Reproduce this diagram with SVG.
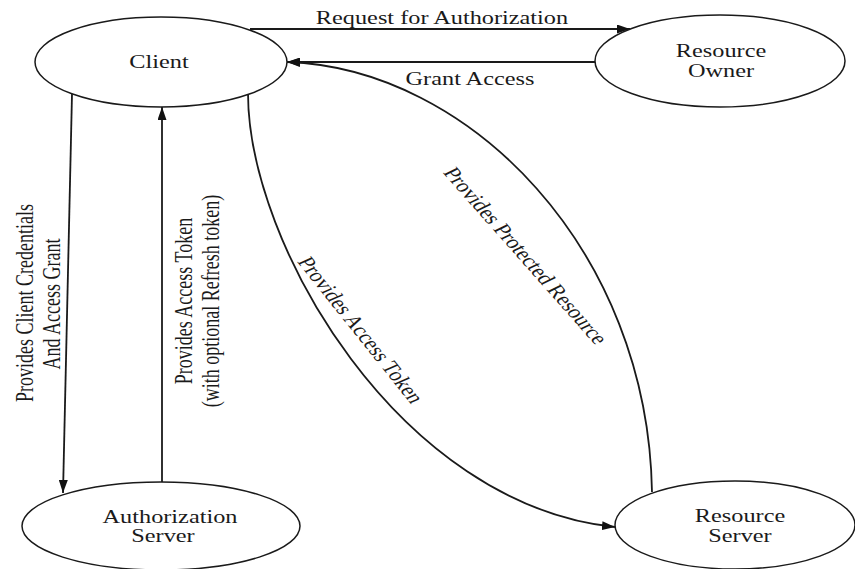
<svg xmlns="http://www.w3.org/2000/svg" width="855" height="569" viewBox="0 0 855 569">
<style>
  .node { fill: #ffffff; stroke: #1a1a1a; stroke-width: 1.5; }
  .lbl { font-family: "Liberation Serif", "Times New Roman", serif; font-size: 18px; fill: #1a1a1a; text-anchor: middle; }
  .edge { fill: none; stroke: #1a1a1a; stroke-width: 1.8; }
</style>
<defs>
  <marker id="arrow" markerUnits="userSpaceOnUse" markerWidth="14" markerHeight="9" refX="13" refY="4.5" orient="auto">
    <path d="M0,0 L13,4.5 L0,9 z" fill="#111111"/>
  </marker>
</defs>
<rect width="855" height="569" fill="#ffffff"/>

<g id="connectors">
  <path id="e-request" class="edge" d="M250,29 L630,29" marker-end="url(#arrow)"/>
  <path id="e-grant" class="edge" d="M595,62 L287,62" marker-end="url(#arrow)"/>
  <path id="e-credentials" class="edge" d="M72,94 L63,493" marker-end="url(#arrow)"/>
  <path id="e-token" class="edge" d="M162,482 L162,107" marker-end="url(#arrow)"/>
  <path id="e-access" class="edge" d="M248,93 C248,245 400,505 615,527" marker-end="url(#arrow)"/>
  <path id="e-protected" class="edge" d="M652,492 C648,250 470,68 287,62" marker-end="url(#arrow)"/>
  <g class="lbl">
    <text transform="translate(442,24) scale(1.35,1)">Request for Authorization</text>
    <text transform="translate(470,85) scale(1.35,1)">Grant Access</text>
    <text transform="translate(33,303) scale(1.35,1) rotate(-90)">Provides Client Credentials</text>
    <text transform="translate(60,304) scale(1.35,1) rotate(-90)">And Access Grant</text>
    <text transform="translate(192,301) scale(1.35,1) rotate(-90)">Provides Access Token</text>
    <text transform="translate(219,301) scale(1.35,1) rotate(-90)">(with optional Refresh token)</text>
    <text transform="translate(354,333) scale(1.35,1) rotate(59.35)">Provides Access Token</text>
    <text transform="translate(519,259) scale(1.35,1) rotate(56.75)">Provides Protected Resource</text>
  </g>
</g>

<g id="client">
  <ellipse class="node" cx="161" cy="62" rx="126" ry="45"/>
  <text class="lbl" transform="translate(159,68) scale(1.35,1)">Client</text>
</g>
<g id="resource-owner">
  <ellipse class="node" cx="720" cy="61" rx="125" ry="46"/>
  <text class="lbl" transform="translate(721,57) scale(1.35,1)">Resource</text>
  <text class="lbl" transform="translate(721,77) scale(1.35,1)">Owner</text>
</g>
<g id="authorization-server">
  <ellipse class="node" cx="161" cy="526" rx="139" ry="44"/>
  <text class="lbl" transform="translate(170,523) scale(1.35,1)">Authorization</text>
  <text class="lbl" transform="translate(163,542) scale(1.35,1)">Server</text>
</g>
<g id="resource-server">
  <ellipse class="node" cx="735" cy="525" rx="120" ry="44"/>
  <text class="lbl" transform="translate(740,522) scale(1.35,1)">Resource</text>
  <text class="lbl" transform="translate(740,542) scale(1.35,1)">Server</text>
</g>
</svg>
